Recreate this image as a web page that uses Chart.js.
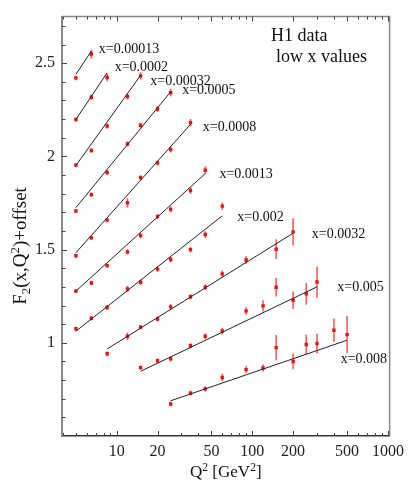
<!DOCTYPE html>
<html>
<head>
<meta charset="utf-8">
<script src="https://cdn.jsdelivr.net/npm/chart.js@4.4.1/dist/chart.umd.min.js"></script>
<style>
html, body { margin: 0; padding: 0; background: #fff; }
</style>
</head>
<body>
<canvas id="f2-chart" width="410" height="480"></canvas>
<script>
// H1 F2 at low x (offset already added)
const xLabels = ['x=0.00013', 'x=0.0002', 'x=0.00032', 'x=0.0005', 'x=0.0008',
                 'x=0.0013', 'x=0.002', 'x=0.0032', 'x=0.005', 'x=0.008'];

const q2Points = [
    [5, 6.5],
    [5, 6.5, 8.5],
    [5, 6.5, 8.5, 12, 15],
    [5, 6.5, 8.5, 12, 15, 20, 25],
    [5, 6.5, 8.5, 12, 15, 20, 25, 35],
    [5, 6.5, 8.5, 12, 15, 20, 25, 35, 45],
    [5, 6.5, 8.5, 12, 15, 20, 25, 35, 45, 60],
    [8.5, 12, 15, 20, 25, 35, 45, 60, 90, 150, 200],
    [15, 20, 25, 35, 45, 60, 90, 120, 150, 200, 250, 300],
    [25, 35, 45, 60, 90, 120, 150, 200, 250, 300, 400, 500]
];

const f2Values = [
    [2.421, 2.549],
    [2.198, 2.317, 2.423],
    [1.953, 2.032, 2.163, 2.321, 2.432],
    [1.707, 1.795, 1.914, 2.067, 2.167, 2.254, 2.342],
    [1.467, 1.563, 1.658, 1.751, 1.886, 1.965, 2.037, 2.181],
    [1.277, 1.321, 1.414, 1.488, 1.575, 1.677, 1.716, 1.817, 1.926],
    [1.075, 1.132, 1.189, 1.289, 1.325, 1.395, 1.447, 1.500, 1.581, 1.733],
    [0.941, 1.035, 1.084, 1.128, 1.193, 1.247, 1.298, 1.370, 1.444, 1.502, 1.595],
    [0.867, 0.904, 0.914, 0.984, 1.035, 1.063, 1.171, 1.198, 1.298, 1.228, 1.263, 1.326],
    [0.672, 0.730, 0.753, 0.814, 0.856, 0.865, 0.974, 0.900, 0.991, 0.996, 1.067, 1.044]
];

const f2Errors = [
    [0.012, 0.024],
    [0.010, 0.014, 0.020],
    [0.010, 0.012, 0.014, 0.016, 0.020],
    [0.010, 0.012, 0.012, 0.014, 0.014, 0.016, 0.020],
    [0.010, 0.012, 0.012, 0.026, 0.014, 0.014, 0.016, 0.020],
    [0.010, 0.012, 0.012, 0.014, 0.014, 0.014, 0.016, 0.018, 0.020],
    [0.010, 0.012, 0.012, 0.016, 0.014, 0.014, 0.014, 0.016, 0.018, 0.020],
    [0.012, 0.020, 0.012, 0.014, 0.014, 0.014, 0.016, 0.018, 0.020, 0.053, 0.073],
    [0.012, 0.012, 0.014, 0.014, 0.016, 0.018, 0.020, 0.030, 0.050, 0.047, 0.058, 0.084],
    [0.012, 0.014, 0.014, 0.020, 0.020, 0.020, 0.068, 0.042, 0.053, 0.053, 0.063, 0.100]
];

// fit curves: value at first and last Q2 of each set
const fitStart = [2.440, 2.198, 1.951, 1.725, 1.483, 1.277, 1.062, 0.967, 0.847, 0.689];
const fitEnd   = [2.565, 2.449, 2.435, 2.347, 2.172, 1.908, 1.681, 1.588, 1.300, 1.014];

// where each x= label sits (Q2, F2)
const labelQ2 = [7.37, 9.66, 17.7, 30.4, 43.1, 57.2, 77.6, 274.6, 423.6, 448.6];
const labelF2 = [2.575, 2.479, 2.405, 2.353, 2.154, 1.905, 1.674, 1.584, 1.300, 0.911];

const xTickLabels = [10, 20, 50, 100, 200, 500, 1000];
const yTickLabels = [1, 1.5, 2, 2.5];

const SERIF = '"Liberation Serif", "DejaVu Serif", serif';
const RED = '#f01010';

// Build datasets
const datasets = [];
xLabels.forEach((lbl, i) => {
    const q = q2Points[i];
    datasets.push({
        label: lbl + ' fit',
        data: [{ x: q[0], y: fitStart[i] }, { x: q[q.length - 1], y: fitEnd[i] }],
        showLine: true,
        borderColor: '#222',
        borderWidth: 1,
        pointRadius: 0
    });
    datasets.push({
        label: lbl,
        data: q.map((v, k) => ({ x: v, y: f2Values[i][k] })),
        showLine: false,
        pointStyle: 'rect',
        pointRadius: 2.4,
        backgroundColor: RED,
        borderColor: RED,
        borderWidth: 0
    });
});

// Error bars, drawn under the markers
const errorBars = {
    id: 'errorBars',
    beforeDatasetsDraw(chart) {
        const ctx = chart.ctx;
        const xs = chart.scales.x, ys = chart.scales.y;
        ctx.save();
        ctx.strokeStyle = 'rgba(240, 40, 40, 0.75)';
        ctx.lineWidth = 1.6;
        q2Points.forEach((q, i) => {
            q.forEach((v, k) => {
                const px = xs.getPixelForValue(v);
                const top = ys.getPixelForValue(f2Values[i][k] + f2Errors[i][k]);
                const bot = ys.getPixelForValue(f2Values[i][k] - f2Errors[i][k]);
                ctx.beginPath();
                ctx.moveTo(px, top);
                ctx.lineTo(px, bot);
                ctx.stroke();
            });
        });
        ctx.restore();
    }
};

function drawRich(ctx, parts, x, y, size) {
    // parts: [text, mode] with mode 0 normal, 1 superscript, -1 subscript
    let total = 0;
    parts.forEach(p => {
        ctx.font = (p[1] ? size * 0.68 : size) + 'px ' + SERIF;
        total += ctx.measureText(p[0]).width;
    });
    let cx = x - total / 2;
    parts.forEach(p => {
        ctx.font = (p[1] ? size * 0.68 : size) + 'px ' + SERIF;
        const dy = p[1] === 1 ? -size * 0.38 : (p[1] === -1 ? size * 0.22 : 0);
        ctx.fillText(p[0], cx, y + dy);
        cx += ctx.measureText(p[0]).width;
    });
}

// Frame, inward ticks and the text on the plot
const decorations = {
    id: 'decorations',
    afterDraw(chart) {
        const ctx = chart.ctx;
        const a = chart.chartArea;
        const xs = chart.scales.x, ys = chart.scales.y;
        ctx.save();

        // top and right frame
        ctx.strokeStyle = '#888';
        ctx.lineWidth = 1.5;
        ctx.beginPath();
        ctx.moveTo(a.left, a.top);
        ctx.lineTo(a.right, a.top);
        ctx.lineTo(a.right, a.bottom);
        ctx.stroke();

        // y ticks every 0.1
        ctx.strokeStyle = '#444';
        ctx.lineWidth = 1;
        for (let t = 6; t <= 27; t++) {
            const py = Math.round(ys.getPixelForValue(t / 10)) + 0.5;
            const len = t % 5 === 0 ? 5 : 3.5;
            ctx.beginPath();
            ctx.moveTo(a.left, py);
            ctx.lineTo(a.left + len, py);
            ctx.stroke();
        }

        // x ticks, bottom and top
        for (let dec = 1; dec <= 1000; dec *= 10) {
            for (let m = 1; m <= 9; m++) {
                const v = dec * m;
                if (v < xs.min || v > xs.max) continue;
                const px = Math.round(xs.getPixelForValue(v)) + 0.5;
                const len = xTickLabels.includes(v) ? 5 : 3;
                ctx.beginPath();
                ctx.moveTo(px, a.bottom);
                ctx.lineTo(px, a.bottom - len);
                ctx.moveTo(px, a.top);
                ctx.lineTo(px, a.top + len);
                ctx.stroke();
            }
        }

        // series labels
        ctx.fillStyle = '#111';
        ctx.textBaseline = 'middle';
        ctx.textAlign = 'left';
        ctx.font = '14px ' + SERIF;
        xLabels.forEach((lbl, i) => {
            ctx.fillText(lbl, xs.getPixelForValue(labelQ2[i]), ys.getPixelForValue(labelF2[i]));
        });

        // corner note
        ctx.font = '18px ' + SERIF;
        ctx.fillText('H1 data', 271, 36);
        ctx.fillText('low x values', 276, 57);

        // axis titles
        ctx.textBaseline = 'alphabetic';
        drawRich(ctx, [['Q', 0], ['2', 1], [' [GeV', 0], ['2', 1], [']', 0]],
                 (a.left + a.right) / 2, 477, 17);

        ctx.translate(26, 246);
        ctx.rotate(-Math.PI / 2);
        drawRich(ctx, [['F', 0], ['2', -1], ['(x,Q', 0], ['2', 1], [')+offset', 0]], 0, 0, 19);

        ctx.restore();
    }
};

new Chart(document.getElementById('f2-chart'), {
    type: 'scatter',
    data: { datasets: datasets },
    options: {
        responsive: false,
        animation: false,
        layout: { padding: { top: 9, right: 19, left: 0, bottom: 0 } },
        plugins: {
            legend: { display: false },
            tooltip: { enabled: false }
        },
        scales: {
            x: {
                type: 'logarithmic',
                min: 3.95,
                max: 1030,
                afterBuildTicks: s => { s.ticks = xTickLabels.map(v => ({ value: v })); },
                afterFit: s => { s.height = 44; },
                grid: { display: false, drawTicks: false },
                border: { display: true, color: '#333', width: 1.5 },
                ticks: {
                    autoSkip: false,
                    maxRotation: 0,
                    padding: 6,
                    color: '#222',
                    font: { family: SERIF, size: 16 },
                    callback: v => String(v)
                }
            },
            y: {
                type: 'linear',
                min: 0.5,
                max: 2.75,
                afterBuildTicks: s => { s.ticks = yTickLabels.map(v => ({ value: v })); },
                afterFit: s => { s.width = 62; },
                grid: { display: false, drawTicks: false },
                border: { display: true, color: '#888', width: 2 },
                ticks: {
                    padding: 7,
                    color: '#222',
                    font: { family: SERIF, size: 16 },
                    callback: v => String(v)
                }
            }
        }
    },
    plugins: [errorBars, decorations]
});
</script>
</body>
</html>
